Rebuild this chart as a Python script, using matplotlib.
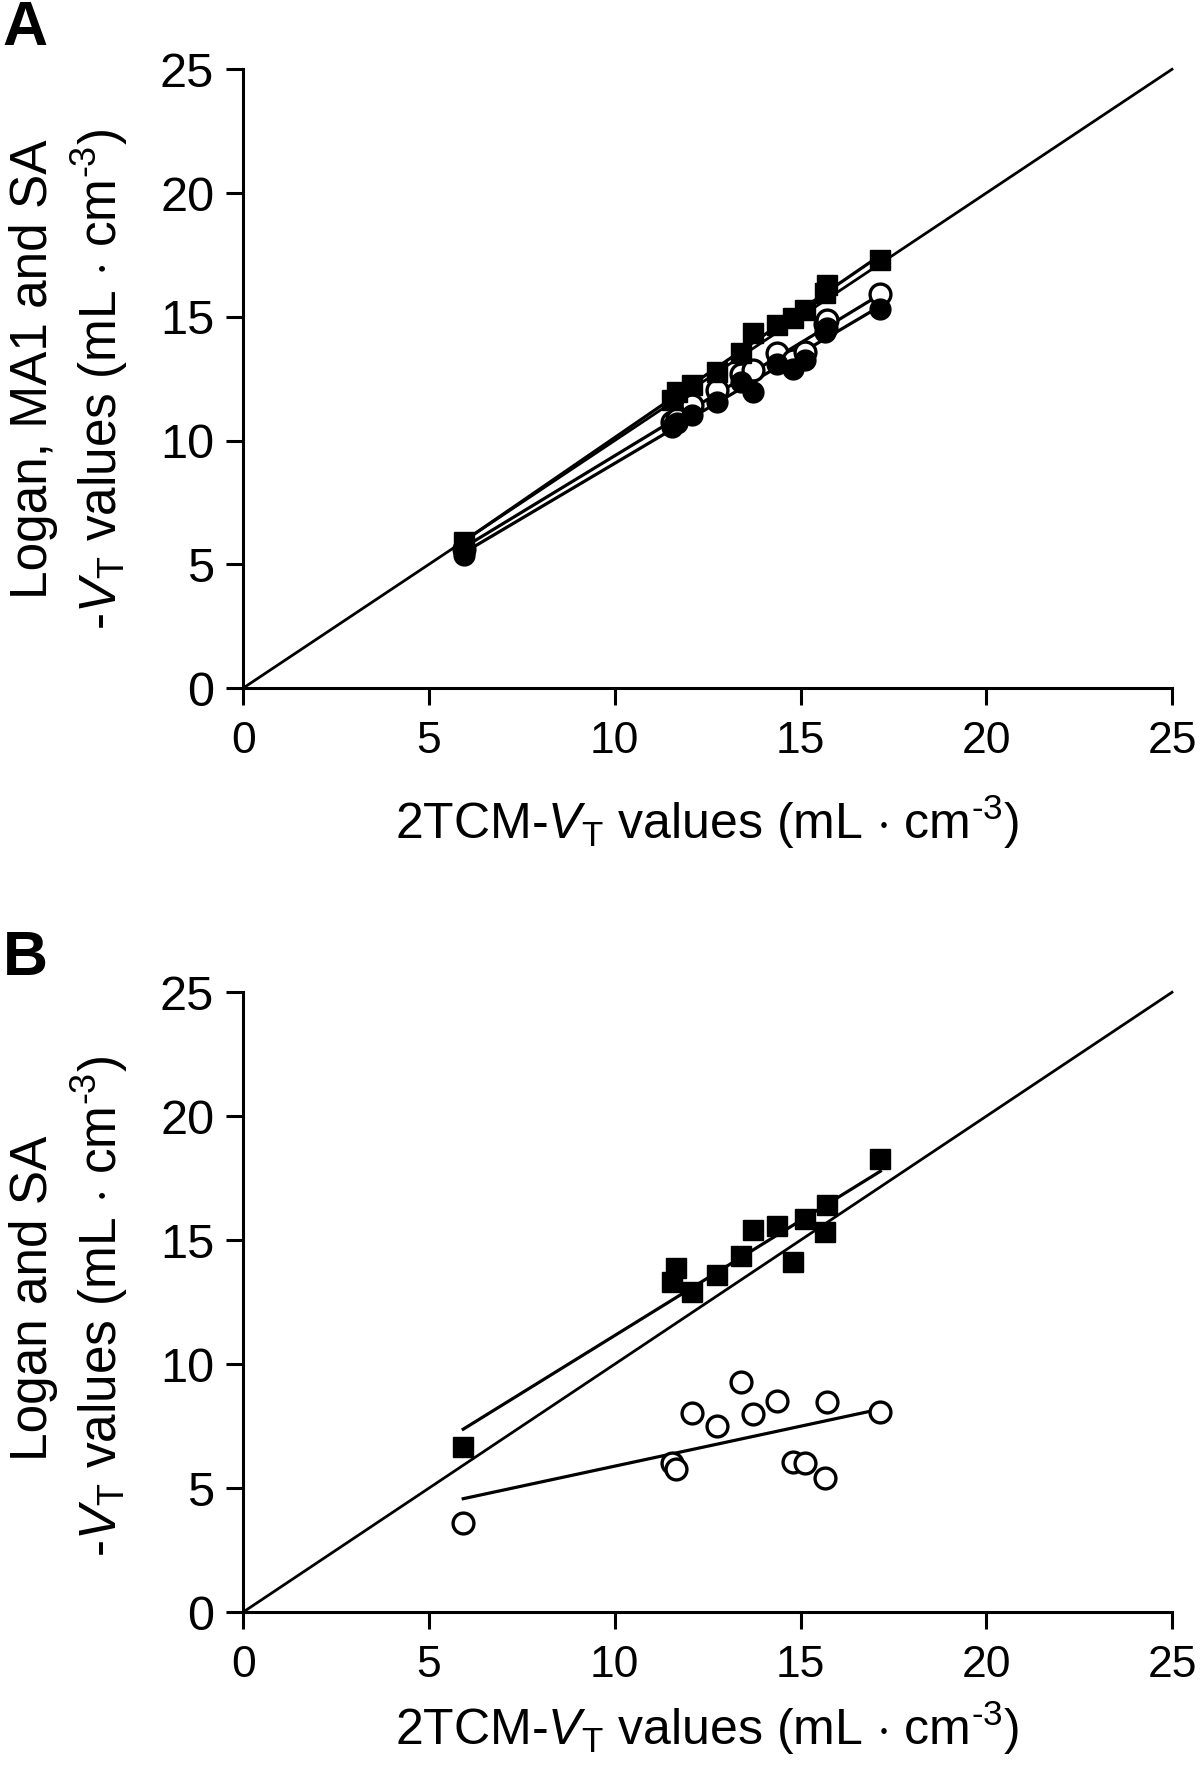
import numpy as np
import matplotlib
matplotlib.use("Agg")
import matplotlib.pyplot as plt

plt.rcParams['font.family'] = ['Liberation Sans', 'DejaVu Sans']
plt.rcParams['mathtext.fontset'] = 'custom'
plt.rcParams['mathtext.rm'] = 'Liberation Sans'
plt.rcParams['mathtext.it'] = 'Liberation Sans:italic'
plt.rcParams['mathtext.bf'] = 'Liberation Sans:bold'

# ---------------- data ----------------
# Panel A: 2TCM-VT (x) vs Logan (squares), MA1 (open circles), SA (filled circles)
x_A = [5.93, 11.55, 11.68, 12.09, 12.74, 13.41, 13.71, 14.38, 14.80, 15.13, 15.66, 15.72, 17.15]
logan_A = [5.91, 11.62, 11.95, 12.25, 12.78, 13.55, 14.35, 14.66, 14.95, 15.27, 15.98, 16.28, 17.30]
ma1_A = [5.62, 10.76, 10.85, 11.43, 12.04, 12.70, 12.84, 13.52, 13.25, 13.58, 14.70, 14.86, 15.94]
sa_A = [5.37, 10.55, 10.70, 11.03, 11.56, 12.37, 11.97, 13.11, 12.91, 13.25, 14.39, 14.55, 15.33]

# Panel B: 2TCM-VT (x) vs Logan (squares), SA (open circles)
x_B = [5.92, 11.53, 11.66, 12.09, 12.74, 13.41, 13.71, 14.38, 14.80, 15.13, 15.65, 15.72, 17.15]
logan_B = [6.67, 13.32, 13.86, 12.92, 13.59, 14.35, 15.40, 15.56, 14.13, 15.87, 15.33, 16.41, 18.29]
sa_B = [3.58, 6.00, 5.75, 8.01, 7.50, 9.26, 7.98, 8.52, 6.06, 6.02, 5.39, 8.48, 8.08]

ticks = [0, 5, 10, 15, 20, 25]
unit = r"(mL $\cdot$ cm$^{\text{-3}}$)"
ylabels = [["Logan, MA1 and SA", r"-$V_\mathrm{T}$ values " + unit],
           ["Logan and SA", r"-$V_\mathrm{T}$ values " + unit]]
xlabel = r"2TCM-$V_\mathrm{T}$ values " + unit
panel_letters = ["A", "B"]

W, H = 1200, 1773
fig = plt.figure(figsize=(W / 100, H / 100), dpi=100)

def px_axes(x0, y0, x1, y1):
    return fig.add_axes([x0 / W, 1 - y1 / H, (x1 - x0) / W, (y1 - y0) / H])

axA = px_axes(243.3, 69.3, 1172, 688)
axB = px_axes(243.3, 992.3, 1172, 1612)

lw_line = 2.3
ms = 15

def style(ax):
    ax.set_xlim(0, 25)
    ax.set_ylim(0, 25)
    ax.set_xticks(ticks)
    ax.set_yticks(ticks)
    for s in ['top', 'right']:
        ax.spines[s].set_visible(False)
    for s in ['left', 'bottom']:
        ax.spines[s].set_linewidth(2.2)
    ax.tick_params(direction='out', length=12, width=2.2, pad=10)
    ax.tick_params(axis='y', labelsize=35, pad=9)
    ax.tick_params(axis='x', labelsize=32, pad=12)
    ax.plot([0, 25], [0, 25], color='black', lw=2.0, zorder=2, clip_on=False)

def fit_line(ax, x, y):
    x = np.asarray(x); y = np.asarray(y)
    k, b = np.polyfit(x, y, 1)
    xx = np.array([x.min(), x.max()])
    ax.plot(xx, k * xx + b, color='black', lw=lw_line, zorder=2)

# Panel A
style(axA)
fit_line(axA, x_A, logan_A)
fit_line(axA, x_A, ma1_A)
fit_line(axA, x_A, sa_A)
axA.plot(x_A, ma1_A, 'o', ms=ms, mfc='white', mec='black', mew=2.4, zorder=3, ls='none')
axA.plot(x_A, sa_A, 'o', ms=ms, mfc='black', mec='black', mew=1, zorder=4, ls='none')
axA.plot(x_A, logan_A, 's', ms=ms, mfc='black', mec='black', mew=1, zorder=5, ls='none')

# Panel B
style(axB)
fit_line(axB, x_B, logan_B)
fit_line(axB, x_B, sa_B)
axB.plot(x_B, sa_B, 'o', ms=ms, mfc='white', mec='black', mew=2.4, zorder=3, ls='none')
axB.plot(x_B, logan_B, 's', ms=ms, mfc='black', mec='black', mew=1, zorder=5, ls='none')

# labels (pixel positions)
def ftext(x, y, s, **kw):
    fig.text(x / W, 1 - y / H, s, **kw)

for (l1_y, l2_y, xl_y, letter_base, lines, letter) in [
        (369, 379, 822, 45, ylabels[0], panel_letters[0]),
        (1298, 1306, 1728, 975, ylabels[1], panel_letters[1])]:
    ftext(707, xl_y, xlabel, fontsize=36, ha='center', va='center')
    ftext(34, l1_y, lines[0], fontsize=37, rotation=90, ha='center', va='center')
    ftext(100, l2_y, lines[1], fontsize=37, rotation=90, ha='center', va='center')
    ftext(25, letter_base, letter, fontsize=45, fontweight='bold', ha='center', va='baseline')

fig.savefig("out.png", dpi=100)
